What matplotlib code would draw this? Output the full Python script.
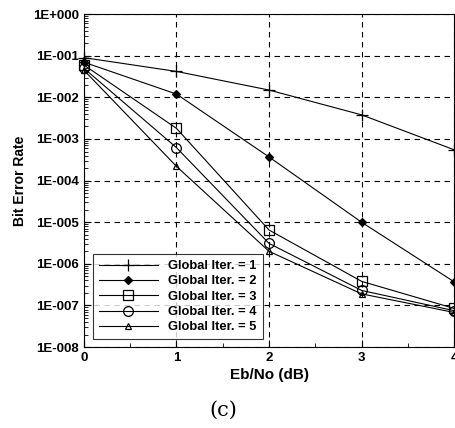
import numpy as np
import matplotlib
matplotlib.use('Agg')
import matplotlib.pyplot as plt
from matplotlib.ticker import LogLocator, FixedLocator, NullFormatter

ebno = [0, 1, 2, 3, 4]
ber_iter1 = [9.0e-2, 4.2e-2, 1.5e-2, 3.8e-3, 5.5e-4]
ber_iter2 = [7.0e-2, 1.2e-2, 3.7e-4, 1.0e-5, 3.7e-7]
ber_iter3 = [6.0e-2, 1.8e-3, 6.5e-6, 3.8e-7, 8.5e-8]
ber_iter4 = [5.0e-2, 6.2e-4, 3.1e-6, 2.3e-7, 7.5e-8]
ber_iter5 = [4.5e-2, 2.2e-4, 2.0e-6, 1.9e-7, 6.8e-8]
labels = ['Global Iter. = 1', 'Global Iter. = 2', 'Global Iter. = 3',
          'Global Iter. = 4', 'Global Iter. = 5']
yticks = [1e0, 1e-1, 1e-2, 1e-3, 1e-4, 1e-5, 1e-6, 1e-7, 1e-8]
ytick_labels = ['1E+000', '1E-001', '1E-002', '1E-003', '1E-004',
                '1E-005', '1E-006', '1E-007', '1E-008']

plt.rcParams['font.family'] = ['Liberation Sans', 'DejaVu Sans']

fig = plt.figure(figsize=(4.56, 4.28), dpi=100)
ax = fig.add_axes([0.184, 0.189, 0.812, 0.778])

series = [ber_iter1, ber_iter2, ber_iter3, ber_iter4, ber_iter5]
markers = ['+', 'D', 's', 'o', '^']
msizes = [8, 4.5, 7, 7, 4.5]
fills = ['none', 'black', 'none', 'none', 'none']
for ys, m, ms, fc, lab in zip(series, markers, msizes, fills, labels):
    ax.plot(ebno, ys, color='black', lw=0.8, marker=m, ms=ms,
            markerfacecolor=fc, markeredgecolor='black', markeredgewidth=0.9,
            label=lab, clip_on=False)

ax.set_yscale('log')
ax.set_ylim(1e-8, 1)
ax.set_xlim(0, 4)
ax.set_yticks(yticks)
ax.set_yticklabels(ytick_labels)
ax.yaxis.set_minor_locator(LogLocator(base=10, subs=np.arange(2, 10), numticks=20))
ax.yaxis.set_minor_formatter(NullFormatter())
ax.set_xticks([0, 1, 2, 3, 4])
ax.xaxis.set_minor_locator(FixedLocator([0.5, 1.5, 2.5, 3.5]))

ax.tick_params(axis='both', which='major', direction='in', length=5,
               labelsize=9.5, width=0.8)
ax.tick_params(axis='both', which='minor', direction='in', length=3, width=0.6)
for t in ax.get_xticklabels() + ax.get_yticklabels():
    t.set_fontweight('bold')

ax.grid(True, which='major', color='black', linestyle=(0, (5, 4)), lw=0.8)

ax.set_xlabel('Eb/No (dB)', fontsize=11, fontweight='bold', labelpad=3)
ax.set_ylabel('Bit Error Rate', fontsize=10, fontweight='bold', labelpad=4)

leg = ax.legend(loc='lower left', bbox_to_anchor=(0.024, 0.024), fontsize=9.3,
                frameon=True, fancybox=False, edgecolor='black', borderaxespad=0,
                handlelength=4.6, borderpad=0.45, labelspacing=0.25,
                handletextpad=0.8)
leg.get_frame().set_linewidth(0.8)
for t in leg.get_texts():
    t.set_fontweight('bold')

fig.text(0.49, 0.02, '(c)', fontsize=15, family='DejaVu Serif', ha='center', va='bottom')

fig.savefig('out.png', dpi=100)
